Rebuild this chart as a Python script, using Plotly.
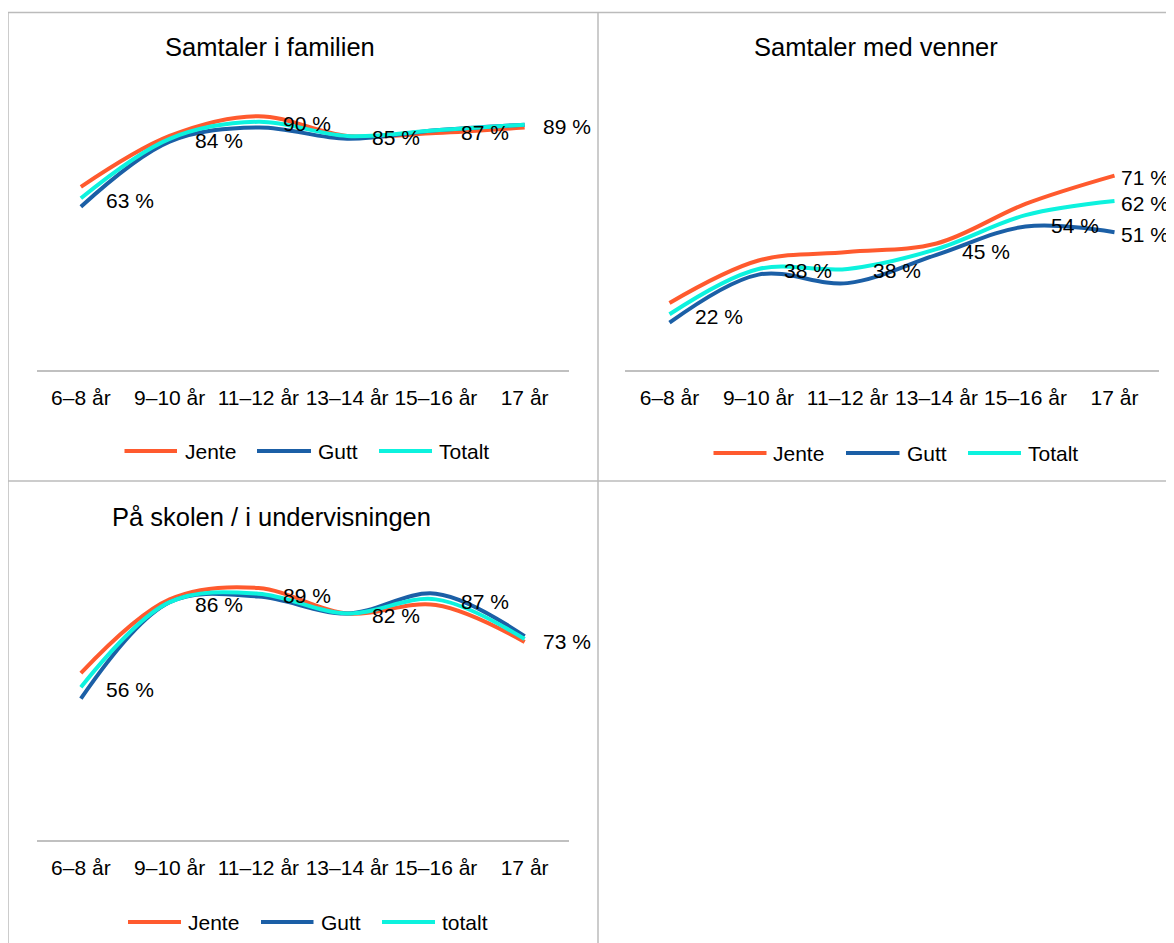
import plotly.graph_objects as go

# ---------------- data ----------------
categories = ["6–8 år", "9–10 år", "11–12 år", "13–14 år", "15–16 år", "17 år"]

fam_jente = [67, 85, 92, 85, 86, 88]
fam_gutt = [60, 83, 88, 84, 87, 89]
fam_totalt = [63, 84, 90, 85, 87, 89]
fam_label_cats = ["6–8 år", "9–10 år", "11–12 år", "13–14 år", "15–16 år", "17 år"]
fam_label_vals = [63, 84, 90, 85, 87, 89]

ven_jente = [26, 41, 44, 47, 61, 71]
ven_gutt = [19, 36, 33, 43, 53, 51]
ven_totalt = [22, 38, 38, 45, 57, 62]
ven_label_cats = ["6–8 år", "9–10 år", "11–12 år", "13–14 år", "15–16 år", "17 år", "17 år", "17 år"]
ven_label_vals = [22, 38, 38, 45, 54, 51, 62, 71]

sko_jente = [61, 87, 91, 82, 85, 72]
sko_gutt = [52, 86, 88, 82, 89, 74]
sko_totalt = [56, 86, 89, 82, 87, 73]
sko_label_cats = ["6–8 år", "9–10 år", "11–12 år", "13–14 år", "15–16 år", "17 år"]
sko_label_vals = [56, 86, 89, 82, 87, 73]

titles = ["Samtaler i familien", "Samtaler med venner", "På skolen / i undervisningen"]
legend_names = [["Jente", "Gutt", "Totalt"], ["Jente", "Gutt", "Totalt"], ["Jente", "Gutt", "totalt"]]

# ---------------- style ----------------
OFF = 8  # page body margin in the browser
W, H = 1174, 943
FONT = "Liberation Sans, Arial, sans-serif"
C_JENTE = "#FF5A2E"
C_GUTT = "#1B5FA6"
C_TOTALT = "#0DF2DE"
COLORS = [C_JENTE, C_GUTT, C_TOTALT]
GRID_GREY = "#BBBBBB"


def px(x):
    return (x - OFF) / W


def py(y):
    return 1 - (y - OFF) / H


panels = [
    dict(series=[fam_jente, fam_gutt, fam_totalt], lcats=fam_label_cats, lvals=fam_label_vals,
         x=(36.5, 569), y=(93.5, 370), title_xy=(270, 47), leg_y=451, last_shift=16,
         leg_lines=[(124.5, 177), (257, 311), (379, 432)], leg_text=[182.5, 316, 437]),
    dict(series=[ven_jente, ven_gutt, ven_totalt], lcats=ven_label_cats, lvals=ven_label_vals,
         x=(625, 1159), y=(93.5, 370), title_xy=(875.5, 47), leg_y=453, last_shift=4,
         leg_lines=[(713.5, 766.5), (846, 899.5), (968, 1021)], leg_text=[771, 904.5, 1026]),
    dict(series=[sko_jente, sko_gutt, sko_totalt], lcats=sko_label_cats, lvals=sko_label_vals,
         x=(36.5, 569), y=(562.5, 839.5), title_xy=(271, 517), leg_y=922, last_shift=16,
         leg_lines=[(128, 181), (261, 313.5), (382, 435)], leg_text=[185.5, 319, 440]),
]

fig = go.Figure()
annotations = []
shapes = []

for i, p in enumerate(panels):
    sfx = "" if i == 0 else str(i + 1)
    xa, ya = "x" + sfx, "y" + sfx
    for k, vals in enumerate(p["series"]):
        fig.add_trace(go.Scatter(
            x=categories, y=vals, mode="lines", name=legend_names[i][k],
            line=dict(color=COLORS[k], width=4, shape="spline", smoothing=1),
            xaxis=xa, yaxis=ya, showlegend=False, hoverinfo="skip"))
    # data labels
    for c, v in zip(p["lcats"], p["lvals"]):
        annotations.append(dict(
            x=c, y=v, xref=xa, yref=ya, text=f"{v} %", showarrow=False,
            xanchor="left", yanchor="middle",
            xshift=p["last_shift"] if c == categories[-1] else 23, yshift=-2,
            font=dict(family=FONT, size=21, color="#000000")))
    # title
    tx, ty = p["title_xy"]
    annotations.append(dict(
        x=px(tx), y=py(ty), xref="paper", yref="paper", text=titles[i], showarrow=False,
        xanchor="center", yanchor="middle", font=dict(family=FONT, size=25.5, color="#000000")))
    # legend
    for k in range(3):
        x0, x1 = p["leg_lines"][k]
        shapes.append(dict(type="line", xref="paper", yref="paper",
                           x0=px(x0), x1=px(x1), y0=py(p["leg_y"]), y1=py(p["leg_y"]),
                           line=dict(color=COLORS[k], width=4)))
        annotations.append(dict(
            x=px(p["leg_text"][k]), y=py(p["leg_y"]), xref="paper", yref="paper",
            text=legend_names[i][k], showarrow=False, xanchor="left", yanchor="middle",
            font=dict(family=FONT, size=21, color="#000000")))
    layout_x = dict(domain=[px(p["x"][0]), px(p["x"][1])], type="category",
                    categoryorder="array", categoryarray=categories,
                    range=[-0.5, len(categories) - 0.5],
                    showline=True, linecolor="#C0C0C0", linewidth=2,
                    showgrid=False, zeroline=False, ticks="",
                    tickfont=dict(family=FONT, size=21, color="#000000"),
                    ticklabelstandoff=8, anchor=ya, fixedrange=True)
    layout_y = dict(domain=[py(p["y"][1]), py(p["y"][0])], range=[2.3, 100],
                    visible=False, showgrid=False, zeroline=False, anchor=xa, fixedrange=True)
    fig.update_layout(**{"xaxis" + sfx: layout_x, "yaxis" + sfx: layout_y})

# table-like frame lines
frame = [
    (8, 12.5, 1180, 12.5),
    (8, 12.5, 8, 951),
    (598, 12.5, 598, 951),
    (8, 481, 1180, 481),
]
for x0, y0, x1, y1 in frame:
    shapes.append(dict(type="line", xref="paper", yref="paper",
                       x0=px(x0), y0=py(y0), x1=px(x1), y1=py(y1),
                       line=dict(color=GRID_GREY, width=1.5)))

fig.update_layout(
    width=W, height=H, margin=dict(l=0, r=0, t=0, b=0),
    paper_bgcolor="white", plot_bgcolor="white",
    font=dict(family=FONT, size=21, color="#000000"),
    showlegend=False, annotations=annotations, shapes=shapes)

fig.write_html("out.html")
